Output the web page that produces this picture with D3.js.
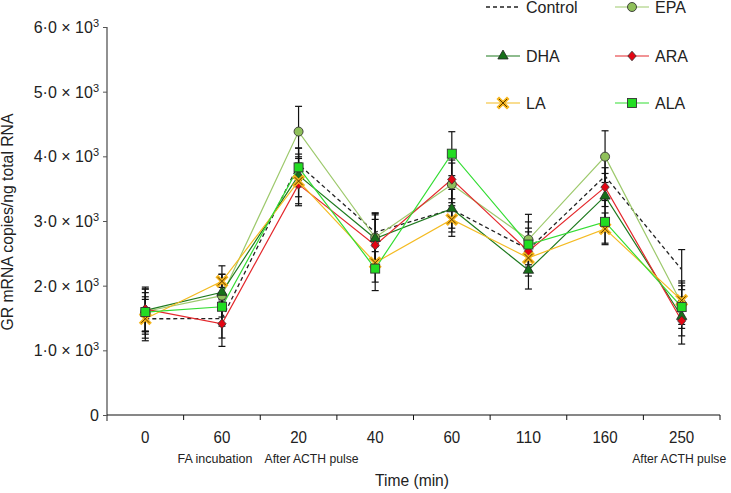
<!DOCTYPE html>
<html><head><meta charset="utf-8">
<script src="https://cdn.jsdelivr.net/npm/d3@7"></script>
<style>body{margin:0;background:#fff}svg{display:block}text{font-family:"Liberation Sans",Arial,Helvetica,sans-serif;fill:#222}</style>
</head><body><svg id="c" width="731" height="493"></svg>
<script>
const categories = ["0","60","20","40","60","110","160","250"];
const subLabels = ["","FA incubation","After ACTH pulse","","","","","After ACTH pulse"];
const yTicks = [0,1000,2000,3000,4000,5000,6000];
const seriesNames = ["Control","EPA","DHA","ARA","LA","ALA"];
const control = [1488,1490,3876,2826,3180,2560,3695,2248];
const epa     = [1600,1845,4383,2745,3566,2713,3995,1721];
const dha     = [1617,1897,3705,2729,3189,2238,3385,1524];
const ara     = [1638,1411,3566,2625,3643,2532,3524,1457];
const la      = [1488,2067,3617,2355,3023,2429,2879,1773];
const ala     = [1592,1674,3829,2264,4041,2636,2987,1669];
const controlErr = [340,300,250,300,350,330,330,310];
const epaErr     = [350,330,390,350,330,390,400,320];
const dhaErr     = [330,280,330,390,300,290,350,300];
const araErr     = [340,350,330,400,300,300,300,360];
const laErr      = [300,240,350,300,260,280,245,300];
const alaErr     = [300,300,300,340,340,350,330,330];

const svg = d3.select("#c");
const x = d3.scaleBand().domain(d3.range(categories.length)).range([107,720]).padding(0);
const y = d3.scaleLinear().domain([0,6000]).range([415,27]);
const cx = i => x(i) + x.bandwidth()/2;

const styles = {
  Control:{line:"#222", dash:"4,3", fill:null},
  EPA:{line:"#9dc96c", fill:"#8fc05a", sym:"circle"},
  DHA:{line:"#1f7a1f", fill:"#17701a", sym:"triangle"},
  ARA:{line:"#e4282c", fill:"#e30613", sym:"diamond"},
  LA:{line:"#f4bb22", fill:"#f5b41c", sym:"x"},
  ALA:{line:"#33dd33", fill:"#22dd22", sym:"square"}
};
const data = {Control:[control,controlErr],EPA:[epa,epaErr],DHA:[dha,dhaErr],ARA:[ara,araErr],LA:[la,laErr],ALA:[ala,alaErr]};

// axes
const yAxis = svg.append("g").attr("transform","translate(107,0)")
  .call(d3.axisLeft(y).tickValues(yTicks).tickSize(4).tickFormat(""));
yAxis.select(".domain").attr("stroke","#555").attr("stroke-width",1.3).attr("d","M0,27V421");
yAxis.selectAll(".tick line").attr("stroke","#555");
yTicks.forEach(v=>{
  const t = svg.append("text").attr("x",99).attr("y",y(v)+6).attr("text-anchor","end").style("font-size","16px");
  if(v===0){ t.text("0"); }
  else {
    t.append("tspan").text((v/1000).toFixed(0)+"·0 × 10");
    t.append("tspan").attr("dy",-6).style("font-size","11px").text("3");
  }
});
const xAxis = svg.append("g").attr("transform","translate(0,415)")
  .call(d3.axisBottom(x).tickSize(0).tickFormat(""));
xAxis.select(".domain").attr("stroke","#111").attr("stroke-width",1.2).attr("d","M107,0H720");
const bounds = d3.range(1,categories.length+1).map(i=>107 + i*x.bandwidth());
xAxis.selectAll(".bt").data(bounds).join("line").attr("x1",d=>d).attr("x2",d=>d).attr("y1",0).attr("y2",5).attr("stroke","#111");
svg.selectAll(".xl").data(categories).join("text").attr("x",(d,i)=>cx(i)).attr("y",443).attr("text-anchor","middle").style("font-size","16px").attr("textLength",d=>d.length*8.4).attr("lengthAdjust","spacingAndGlyphs").text(d=>d);
const subShift = [0,-7,13,0,0,0,0,-2.5];
const subLen = {"FA incubation":75,"After ACTH pulse":94};
svg.selectAll(".xs").data(subLabels.map((d,i)=>[d,i]).filter(d=>d[0])).join("text")
  .attr("x",d=>cx(d[1])+subShift[d[1]]).attr("y",462.5).attr("text-anchor","middle").style("font-size","12.3px")
  .attr("textLength",d=>subLen[d[0]]).attr("lengthAdjust","spacingAndGlyphs").text(d=>d[0]);
svg.append("text").attr("x",412).attr("y",486).attr("text-anchor","middle").style("font-size","16px").attr("textLength",74).attr("lengthAdjust","spacingAndGlyphs").text("Time (min)");
svg.append("text").attr("transform","translate(13,222) rotate(-90)").attr("text-anchor","middle").style("font-size","16px").attr("textLength",217).attr("lengthAdjust","spacingAndGlyphs").text("GR mRNA copies/ng total RNA");

// error bars
seriesNames.forEach(n=>{
  const [vals,errs] = data[n];
  const g = svg.append("g");
  vals.forEach((v,i)=>{
    const X = cx(i);
    g.append("line").attr("x1",X).attr("x2",X).attr("y1",y(v+errs[i])).attr("y2",y(v-errs[i])).attr("stroke","#111").attr("stroke-width",1.2);
    [v+errs[i],v-errs[i]].forEach(e=>g.append("line").attr("x1",X-3.5).attr("x2",X+3.5).attr("y1",y(e)).attr("y2",y(e)).attr("stroke","#111").attr("stroke-width",1.2));
  });
});
// lines
const line = d3.line().x((d,i)=>cx(i)).y(d=>y(d));
seriesNames.forEach(n=>{
  const s = styles[n];
  svg.append("path").attr("d",line(data[n][0])).attr("fill","none").attr("stroke",s.line).attr("stroke-width",n==="Control"?1.3:1.2).attr("stroke-dasharray",s.dash||null);
});
function marker(g, sym, fill, X, Y){
  if(sym==="circle") g.append("circle").attr("cx",X).attr("cy",Y).attr("r",4.5).attr("fill",fill).attr("stroke","#333").attr("stroke-width",0.9);
  else if(sym==="square") g.append("rect").attr("x",X-4.5).attr("y",Y-4.5).attr("width",9).attr("height",9).attr("fill",fill).attr("stroke","#333").attr("stroke-width",0.9);
  else if(sym==="triangle") g.append("path").attr("transform",`translate(${X},${Y})`).attr("d",d3.symbol(d3.symbolTriangle,46)()).attr("fill",fill).attr("stroke","#222").attr("stroke-width",0.8);
  else if(sym==="diamond") g.append("path").attr("transform",`translate(${X},${Y})`).attr("d","M0,-4.8L4.2,0L0,4.8L-4.2,0Z").attr("fill",fill).attr("stroke","#333").attr("stroke-width",0.8);
  else if(sym==="x"){
    const p = "M-4,-4L4,4M4,-4L-4,4";
    g.append("path").attr("transform",`translate(${X},${Y})`).attr("d",p).attr("stroke",fill).attr("stroke-width",3.6).attr("stroke-linecap","square");
    g.append("path").attr("transform",`translate(${X},${Y})`).attr("d",p).attr("stroke","#5a3b00").attr("stroke-width",1);
  }
}
seriesNames.forEach(n=>{
  const s = styles[n]; if(!s.sym) return;
  const g = svg.append("g");
  data[n][0].forEach((v,i)=>marker(g,s.sym,s.fill,cx(i),y(v)));
});
// legend
const legPos = {Control:[486,7],EPA:[615,7],DHA:[486,56],ARA:[615,56],LA:[486,103],ALA:[615,103]};
seriesNames.forEach(n=>{
  const [lx,ly] = legPos[n]; const s = styles[n];
  svg.append("line").attr("x1",lx).attr("x2",lx+34).attr("y1",ly).attr("y2",ly).attr("stroke",s.line).attr("stroke-width",n==="Control"?1.3:1.2).attr("stroke-dasharray",s.dash||null);
  if(s.sym) marker(svg.append("g"),s.sym,s.fill,lx+17,ly);
  svg.append("text").attr("x",lx+40).attr("y",ly+5.5).style("font-size","16px").text(n);
});
</script></body></html>
